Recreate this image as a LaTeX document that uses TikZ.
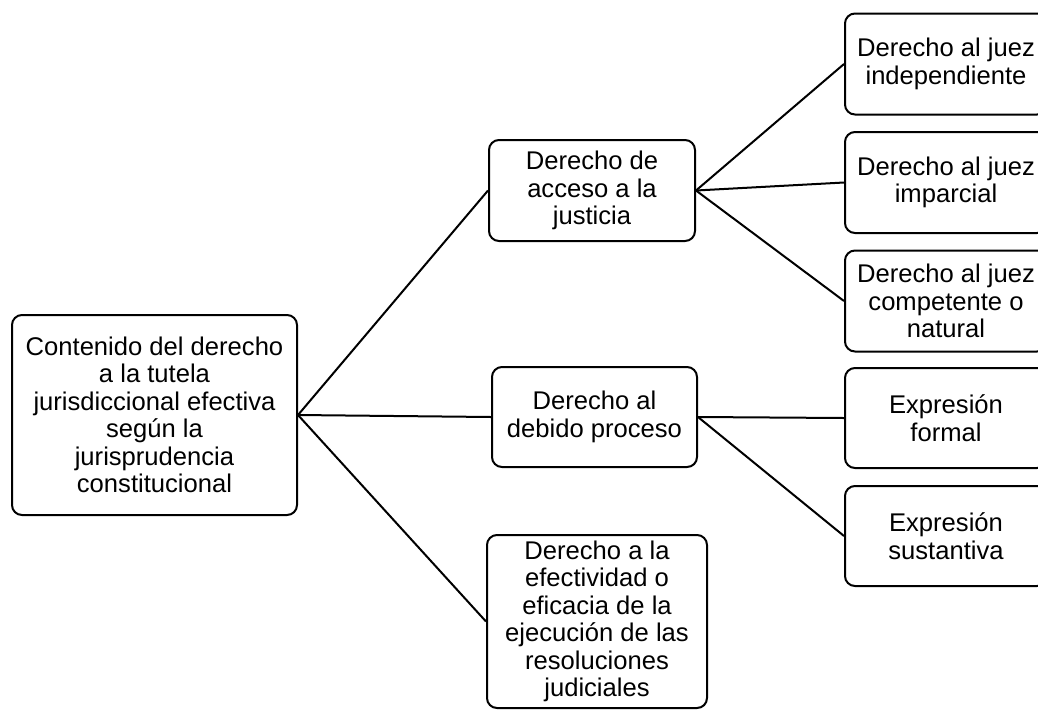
\documentclass[tikz,border=0pt]{standalone}
\usepackage{fontspec}
\setmainfont{Liberation Sans}
\usepackage{tikz}
\usetikzlibrary{positioning}
\tikzset{basic/.style={draw,rounded corners=7.5pt,line width=1.5pt,
                       align=center,inner sep=0pt,
                       font=\fontsize{19.2}{20.6}\selectfont}}
\tikzset{mid/.style={basic,minimum width=154.5pt,minimum height=75.75pt}}
\tikzset{leaf/.style={basic,minimum width=151.5pt,minimum height=75.75pt}}

\begin{document}
\begin{tikzpicture}[x=0.75pt,y=-0.75pt,line width=1.5pt]
    \clip (0,0) rectangle (1038,711);

    % Draw the root node
    \node[basic,minimum width=213.75pt,minimum height=150pt] (root) at (154.5,415)
        {Contenido del derecho\\a la tutela\\jurisdiccional efectiva\\seg\'un la\\jurisprudencia\\constitucional};

    % Draw the middle layer
    \node[mid] (acceso) at (592,190.5) {Derecho de\\acceso a la\\justicia};
    \node[mid,minimum width=153.75pt,minimum height=75pt] (debido) at (594.5,417) {Derecho al\\debido proceso};
    \node[basic,minimum width=165pt,minimum height=129.75pt] (efectividad) at (597,621.5)
        {Derecho a la\\efectividad o\\eficacia de la\\ejecuci\'on de las\\resoluciones\\judiciales};

    % Draw the right layer
    \foreach \name / \y / \txt in {indep/64/{Derecho al juez\\independiente},
                                   impar/182.5/{Derecho al juez\\imparcial},
                                   compet/301/{Derecho al juez\\competente o\\natural}}
        \node[leaf] (\name) at (946,\y) {\txt};
    \foreach \name / \y / \txt in {formal/418/{Expresi\'on\\formal},
                                   sustan/536/{Expresi\'on\\sustantiva}}
        \node[leaf,minimum height=75pt] (\name) at (946,\y) {\txt};

    % Connect the root with the middle layer
    \foreach \dest in {acceso,debido,efectividad}
        \draw (root.east) -- (\dest.west);

    % Connect the middle layer with the right layer
    \foreach \dest in {indep,impar,compet}
        \draw (acceso.east) -- (\dest.west);
    \foreach \dest in {formal,sustan}
        \draw (debido.east) -- (\dest.west);
\end{tikzpicture}
\end{document}
